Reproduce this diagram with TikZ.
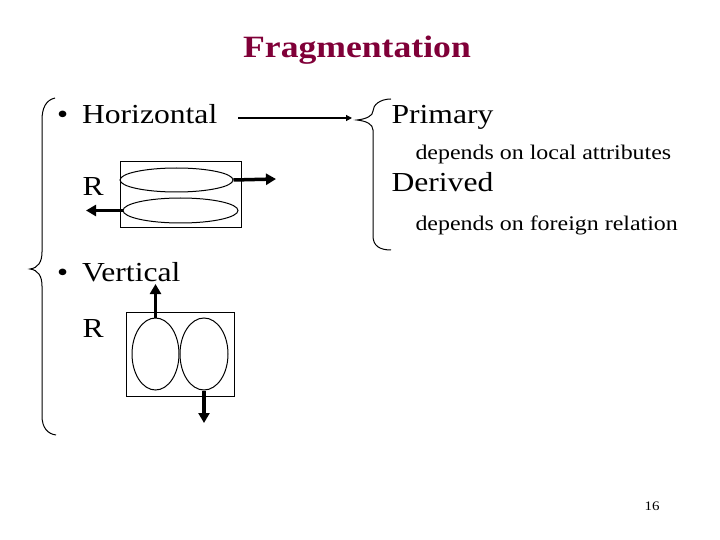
\documentclass[tikz,border=0pt]{standalone}
\usepackage{fontspec}
\setmainfont[FakeStretch=1.15]{Liberation Serif}
\usetikzlibrary{arrows.meta,shapes.geometric}
\definecolor{titlered}{RGB}{128,0,56}

\begin{document}
\begin{tikzpicture}[x=1pt,y=1pt,yscale=-1,line width=1pt,
  big/.style={anchor=base west,inner sep=0pt,font=\fontsize{27.5}{32}\selectfont},
  small/.style={anchor=base west,inner sep=0pt,font=\fontsize{20.8}{25}\selectfont},
  frag/.style={draw,ellipse,inner sep=0pt},
  thinarrow/.style={-{Triangle[length=6pt,width=6pt]},line width=1.2pt},
  thickarrow/.style={-{Triangle[length=10pt,width=11pt]},line width=3.5pt}]
\useasboundingbox (0,0) rectangle (720,540);

% Title
\node (title) at (357,58) [anchor=base,inner sep=0pt,text=titlered,font=\fontsize{31}{36}\bfseries\selectfont] {Fragmentation};

% Text Nodes
\node (horiz) at (56.5,124) [big] {•\hspace{14pt}Horizontal};
\node (hr) at (82,196) [big] {R};
\node (vert) at (56.5,281) [big] {•\hspace{14pt}Vertical};
\node (vr) at (82,337) [big] {R};
\node (prim) at (391,124) [big] {Primary};
\node (local) at (415,160) [small] {depends on local attributes};
\node (deriv) at (391,192) [big] {Derived};
\node (foreign) at (415,230) [small] {depends on foreign relation};
\node (page) at (652,510) [anchor=base,inner sep=0pt,font=\fontsize{13}{15}\selectfont] {16};

% Horizontal fragments
\draw (120,162) rectangle (241,228);
\node (htop) at (176.5,180) [frag,minimum width=113pt,minimum height=24pt] {};
\node (hbot) at (180.5,210.5) [frag,minimum width=115pt,minimum height=25pt] {};
\coordinate (hout) at (276,179);
\coordinate (hin) at (86,210.5);
\draw [thickarrow] (htop.east) -- (hout);
\draw [thickarrow] (hbot.west) -- (hin);

% Vertical fragments
\draw (126,312) rectangle (234,396);
\node (vleft) at (155.5,354) [frag,minimum width=47pt,minimum height=72pt] {};
\node (vright) at (204,354) [frag,minimum width=48pt,minimum height=72pt] {};
\coordinate (vup) at (155.5,284);
\coordinate (vdown) at (204,423);
\draw [thickarrow] (vleft.north) -- (vup);
\draw [thickarrow] (vright.south) -- (vdown);

% Arrow to the kinds
\coordinate (braceR) at (352,118);
\draw [thinarrow] (238,118) -- (braceR);

% Braces
\draw (55,98) .. controls (46,100) and (42,108) .. (42,120) -- (42,252)
  .. controls (42,262) and (38,268) .. (30,269)
  .. controls (38,270) and (42,276) .. (42,286) -- (42,416)
  .. controls (42,428) and (48,434) .. (56,435);
\draw (391,99) .. controls (380,99) and (373,105) .. (373,111)
  .. controls (373,116) and (366,119) .. (357,120)
  .. controls (366,121) and (373,124) .. (373,130) -- (373,236)
  .. controls (373,246) and (380,250) .. (391,250);

\end{tikzpicture}
\end{document}
